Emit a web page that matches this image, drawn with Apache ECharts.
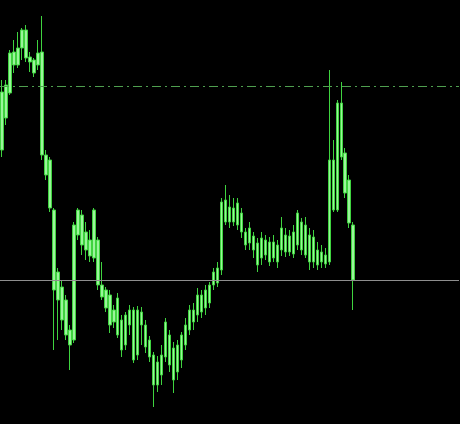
<!DOCTYPE html>
<html>
<head>
<meta charset="utf-8">
<script src="https://cdn.jsdelivr.net/npm/echarts@6/dist/echarts.min.js"></script>
<style>
  html, body { margin: 0; padding: 0; background: #000; }
  #chart { width: 460px; height: 424px; }
</style>
</head>
<body>
<div id="chart"></div>
<script>
// Price values (chart units), one entry per bar
const opens  = [274,339,331,372,359,376,394,367,364,359,372,269,264,214,152,137,124,94,84,189,209,174,184,166,184,139,134,129,102,126,104,79,99,114,69,112,99,84,69,39,49,67,89,76,52,64,79,94,114,109,129,116,121,139,141,154,224,202,216,199,211,192,181,188,181,166,184,182,166,179,174,189,172,192,179,202,169,189,162,174,162,169,162,264,214,321,271,244,199];
const closes = [332,306,371,359,376,394,366,362,351,371,269,249,216,134,124,104,89,79,199,214,179,192,168,214,139,127,116,99,114,89,74,109,114,64,114,99,77,67,39,62,69,102,59,44,79,89,99,114,102,129,112,134,139,152,156,222,202,217,202,221,192,179,196,174,159,186,169,162,182,162,196,172,188,170,211,174,199,162,187,159,172,160,264,214,321,267,231,201,144];
const lows   = [267,299,329,351,356,364,362,352,347,354,264,244,212,74,84,94,84,54,81,184,169,164,162,162,134,124,112,91,96,86,67,74,89,61,64,79,71,62,17,32,39,62,52,31,44,56,74,89,94,102,106,109,116,134,137,149,199,196,198,194,186,174,174,166,152,159,164,158,162,156,168,167,168,166,174,169,166,154,156,154,156,156,159,212,212,264,226,196,114];
const highs  = [344,344,374,384,392,396,399,372,366,384,408,274,267,216,156,144,129,99,202,216,214,202,194,216,187,162,137,134,119,131,109,112,119,117,118,117,104,88,72,68,79,106,94,82,84,92,106,119,121,136,134,139,142,156,162,226,239,229,226,226,216,196,202,192,186,192,189,187,189,184,207,196,194,199,214,206,207,196,194,182,179,176,354,284,324,342,276,249,202];

// Horizontal reference levels
const levelDashDot = 338;
const levelGrey = 144;

// Axis extent
const priceMin = 0;
const priceMax = 424;
const slotCount = 115;
const categories = Array.from({ length: slotCount }, (_, i) => String(i + 1));

const candleData = opens.map((o, i) => [o, closes[i], lows[i], highs[i]]);

const chart = echarts.init(document.getElementById('chart'), null, { renderer: 'canvas' });
chart.setOption({
  backgroundColor: '#000000',
  animation: false,
  grid: { left: -1, top: 0, width: 460, height: 424, containLabel: false },
  xAxis: {
    type: 'category',
    data: categories,
    boundaryGap: true,
    axisLine: { show: false },
    axisTick: { show: false },
    axisLabel: { show: false },
    splitLine: { show: false }
  },
  yAxis: {
    type: 'value',
    min: priceMin,
    max: priceMax,
    axisLine: { show: false },
    axisTick: { show: false },
    axisLabel: { show: false },
    splitLine: { show: false }
  },
  series: [{
    type: 'candlestick',
    data: candleData,
    barWidth: 3,
    itemStyle: {
      color: '#9af59a',
      color0: '#9af59a',
      borderColor: '#3fd33f',
      borderColor0: '#3fd33f',
      borderWidth: 1
    },
    markLine: {
      silent: true,
      symbol: 'none',
      label: { show: false },
      data: [
        { yAxis: levelDashDot, lineStyle: { color: '#4f9f4f', width: 1, type: [9, 4, 2, 4] } },
        { yAxis: levelGrey, lineStyle: { color: '#8e8e8e', width: 1, type: 'solid' } }
      ]
    }
  }]
});
</script>
</body>
</html>
